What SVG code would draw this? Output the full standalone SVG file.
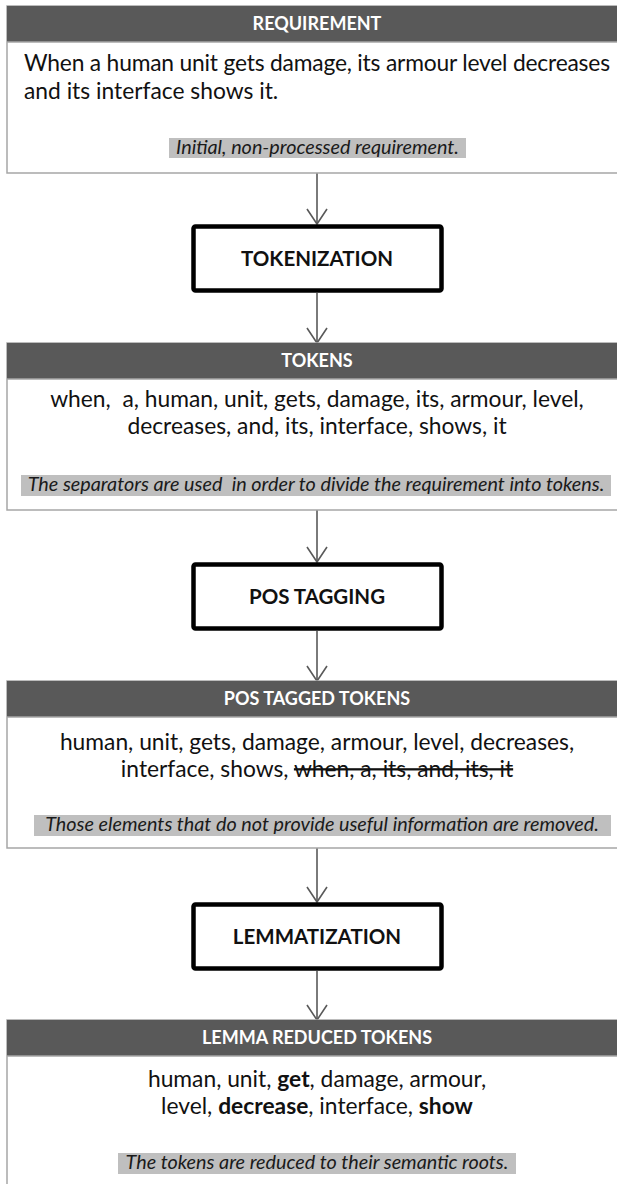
<svg xmlns="http://www.w3.org/2000/svg" width="617" height="1184" viewBox="0 0 617 1184">
  <style>
    .panel { fill: #ffffff; stroke: #a6a6a6; stroke-width: 1.5; }
    .head { fill: #595959; }
    .headline { stroke: #a6a6a6; stroke-width: 1.5; }
    .htxt { font-family: Lato, "Liberation Sans", sans-serif; font-weight: bold; font-size: 18px; fill: #ffffff; text-anchor: middle; }
    .body { font-family: Lato, "Liberation Sans", sans-serif; font-size: 22.8px; fill: #111111; }
    .mid { text-anchor: middle; }
    .capbg { fill: #bfbfbf; }
    .cap { font-family: Lato, "Liberation Sans", sans-serif; font-style: italic; font-size: 19.8px; fill: #1a1a1a; text-anchor: middle; }
    .step { fill: #ffffff; stroke: #000000; stroke-width: 4.5; }
    .stxt { font-family: Lato, "Liberation Sans", sans-serif; font-weight: bold; font-size: 20.5px; fill: #111111; text-anchor: middle; }
    .b { font-weight: bold; }
    .strike { text-decoration: line-through; }
    .conn { stroke: #595959; stroke-width: 1.6; fill: none; marker-end: url(#vhead); }
  </style>
  <defs>
    <marker id="vhead" markerUnits="userSpaceOnUse" viewBox="-17 -12 19 24" refX="0" refY="0" markerWidth="19" markerHeight="24" orient="auto" overflow="visible">
      <path d="M-15,-10 L0,0 L-15,10" fill="none" stroke="#595959" stroke-width="1.6"/>
    </marker>
  </defs>

  <!-- connectors -->
  <g id="connectors">
    <line class="conn" x1="317" y1="173" x2="317" y2="224"/>
    <line class="conn" x1="317" y1="293" x2="317" y2="343"/>
    <line class="conn" x1="317" y1="510" x2="317" y2="562"/>
    <line class="conn" x1="317" y1="631" x2="317" y2="681"/>
    <line class="conn" x1="317" y1="848" x2="317" y2="902"/>
    <line class="conn" x1="317" y1="971" x2="317" y2="1020"/>
  </g>

  <!-- requirement panel -->
  <g id="requirement">
    <rect class="panel" x="7" y="6" width="622" height="167"/>
    <rect class="head" x="7" y="6" width="622" height="36"/>
    <line class="headline" x1="7" y1="42" x2="629" y2="42"/>
    <text class="htxt" x="317" y="30">REQUIREMENT</text>
    <text class="body" x="24" y="71" textLength="586" lengthAdjust="spacing">When a human unit gets damage, its armour level decreases</text>
    <text class="body" x="24" y="99">and its interface shows it.</text>
    <rect class="capbg" x="169" y="138" width="297" height="20"/>
    <text class="cap" x="317.5" y="154">Initial, non-processed requirement.</text>
  </g>

  <!-- tokenization step -->
  <g id="tokenization">
    <rect class="step" x="193.5" y="226.5" width="248" height="64" rx="2"/>
    <text class="stxt" x="317" y="266">TOKENIZATION</text>
  </g>

  <!-- tokens panel -->
  <g id="tokens">
    <rect class="panel" x="7" y="343" width="622" height="167"/>
    <rect class="head" x="7" y="343" width="622" height="36"/>
    <line class="headline" x1="7" y1="379" x2="629" y2="379"/>
    <text class="htxt" x="317" y="367">TOKENS</text>
    <text class="body mid" x="317" y="407" xml:space="preserve">when,  a, human, unit, gets, damage, its, armour, level,</text>
    <text class="body mid" x="317" y="434">decreases, and, its, interface, shows, it</text>
    <rect class="capbg" x="21" y="475" width="590" height="21"/>
    <text class="cap" x="316" y="491" xml:space="preserve">The separators are used  in order to divide the requirement into tokens.</text>
  </g>

  <!-- pos tagging step -->
  <g id="pos-tagging">
    <rect class="step" x="193.5" y="564.5" width="248" height="64" rx="2"/>
    <text class="stxt" x="317" y="604">POS TAGGING</text>
  </g>

  <!-- pos tagged tokens panel -->
  <g id="pos-tagged-tokens">
    <rect class="panel" x="7" y="681" width="622" height="167"/>
    <rect class="head" x="7" y="681" width="622" height="36"/>
    <line class="headline" x1="7" y1="717" x2="629" y2="717"/>
    <text class="htxt" x="317" y="705">POS TAGGED TOKENS</text>
    <text class="body mid" x="317" y="750">human, unit, gets, damage, armour, level, decreases,</text>
    <text class="body mid" x="317" y="777">interface, shows, <tspan class="strike">when, a, its, and, its, it</tspan></text>
    <rect class="capbg" x="34" y="815" width="577" height="21"/>
    <text class="cap" x="322" y="831">Those elements that do not provide useful information are removed.</text>
  </g>

  <!-- lemmatization step -->
  <g id="lemmatization">
    <rect class="step" x="193.5" y="904.5" width="248" height="64" rx="2"/>
    <text class="stxt" x="317" y="944">LEMMATIZATION</text>
  </g>

  <!-- lemma reduced tokens panel -->
  <g id="lemma-reduced-tokens">
    <rect class="panel" x="7" y="1020" width="622" height="167"/>
    <rect class="head" x="7" y="1020" width="622" height="36"/>
    <line class="headline" x1="7" y1="1056" x2="629" y2="1056"/>
    <text class="htxt" x="317" y="1044">LEMMA REDUCED TOKENS</text>
    <text class="body mid" x="317" y="1087">human, unit, <tspan class="b">get</tspan>, damage, armour,</text>
    <text class="body mid" x="317" y="1114">level, <tspan class="b">decrease</tspan>, interface, <tspan class="b">show</tspan></text>
    <rect class="capbg" x="118" y="1153" width="398" height="21"/>
    <text class="cap" x="317" y="1169">The tokens are reduced to their semantic roots.</text>
  </g>
</svg>
